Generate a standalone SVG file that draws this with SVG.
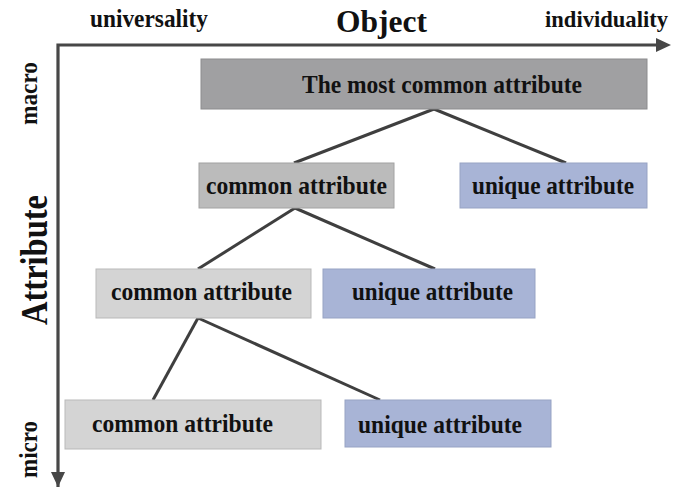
<svg xmlns="http://www.w3.org/2000/svg" width="675" height="487" viewBox="0 0 675 487">
<defs>
<style>
.t{font-family:"Liberation Serif","Times New Roman",serif;font-weight:bold;fill:#111;}
.lbl{font-size:26px;}
.ax{font-size:25px;}
.c1{fill:#a0a0a2;stroke:#8c8c8e;stroke-width:1;}
.c2{fill:#bbbbbb;stroke:#a2a2a2;stroke-width:1;}
.c3{fill:#d4d4d4;stroke:#b9b9b9;stroke-width:1;}
.u{fill:#a8b4d6;stroke:#97a3c4;stroke-width:1;}
.ln{stroke:#3f3f3f;stroke-width:3;fill:none;}
.axis{stroke:#474747;stroke-width:3.2;fill:none;}
</style>
</defs>
<rect width="675" height="487" fill="#ffffff"/>
<g id="axes">
<path class="axis" d="M58,487 L58,45 L660,45"/>
<polygon points="656,38 671,45 656,52" fill="#474747"/>
<polygon points="51,472 58,487 65,472" fill="#474747"/>
<text class="t ax" x="90" y="27" textLength="118" lengthAdjust="spacingAndGlyphs">universality</text>
<text class="t" x="336" y="32" font-size="32" textLength="91" lengthAdjust="spacingAndGlyphs">Object</text>
<text class="t" x="545" y="27" font-size="23" textLength="123" lengthAdjust="spacingAndGlyphs">individuality</text>
<text class="t ax" transform="translate(37,125) rotate(-90)" textLength="63" lengthAdjust="spacingAndGlyphs">macro</text>
<text class="t" font-size="37" transform="translate(47,325) rotate(-90)" textLength="130" lengthAdjust="spacingAndGlyphs">Attribute</text>
<text class="t ax" transform="translate(37,478) rotate(-90)" textLength="57" lengthAdjust="spacingAndGlyphs">micro</text>
</g>
<g id="connectors">
<line class="ln" x1="434" y1="109" x2="294" y2="163"/>
<line class="ln" x1="434" y1="109" x2="566" y2="163"/>
<line class="ln" x1="295" y1="208" x2="198" y2="269"/>
<line class="ln" x1="295" y1="208" x2="435" y2="269"/>
<line class="ln" x1="198" y1="318" x2="153" y2="400"/>
<line class="ln" x1="198" y1="318" x2="380" y2="400"/>
</g>
<g id="node-most-common">
<rect class="c1" x="201" y="59" width="446" height="50"/>
<text class="t lbl" x="302" y="93" textLength="280" lengthAdjust="spacingAndGlyphs">The most common attribute</text>
</g>
<g id="node-common-1">
<rect class="c2" x="199" y="163" width="195" height="45"/>
<text class="t lbl" x="206" y="194" textLength="181" lengthAdjust="spacingAndGlyphs">common attribute</text>
</g>
<g id="node-unique-1">
<rect class="u" x="460" y="163" width="187" height="45"/>
<text class="t lbl" x="472" y="194" textLength="162" lengthAdjust="spacingAndGlyphs">unique attribute</text>
</g>
<g id="node-common-2">
<rect class="c3" x="96" y="269" width="215" height="49"/>
<text class="t lbl" x="111" y="300" textLength="181" lengthAdjust="spacingAndGlyphs">common attribute</text>
</g>
<g id="node-unique-2">
<rect class="u" x="323" y="269" width="212" height="49"/>
<text class="t lbl" x="352" y="300" textLength="161" lengthAdjust="spacingAndGlyphs">unique attribute</text>
</g>
<g id="node-common-3">
<rect class="c3" x="65" y="400" width="256" height="49"/>
<text class="t lbl" x="92" y="432" textLength="181" lengthAdjust="spacingAndGlyphs">common attribute</text>
</g>
<g id="node-unique-3">
<rect class="u" x="345" y="400" width="206" height="47"/>
<text class="t lbl" x="358" y="433" textLength="164" lengthAdjust="spacingAndGlyphs">unique attribute</text>
</g>
</svg>
